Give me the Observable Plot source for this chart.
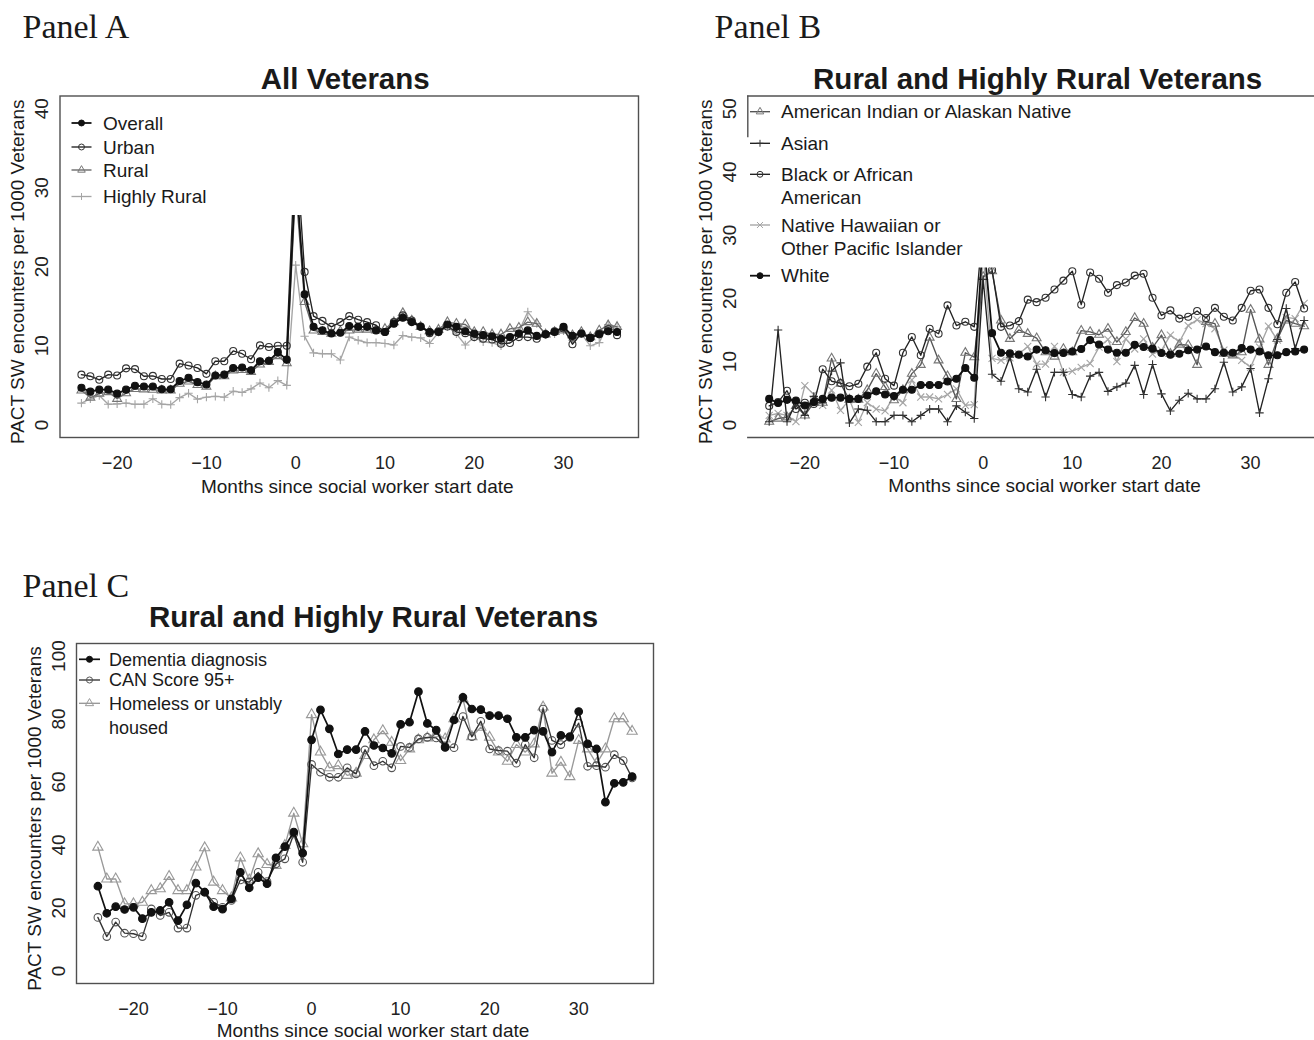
<!DOCTYPE html>
<html><head><meta charset="utf-8">
<script src="https://cdn.jsdelivr.net/npm/d3@7"></script>
<script src="https://cdn.jsdelivr.net/npm/@observablehq/plot@0.6"></script>
<style>
html,body{margin:0;padding:0;background:#fff;overflow:hidden;}
#root{position:relative;width:1314px;height:1040px;overflow:hidden;background:#fff;}
</style></head><body><div id="root"></div>
<script>
// ---------- data ----------
const months = [-24,-23,-22,-21,-20,-19,-18,-17,-16,-15,-14,-13,-12,-11,-10,-9,-8,-7,-6,-5,-4,-3,-2,-1,0,1,2,3,4,5,6,7,8,9,10,11,12,13,14,15,16,17,18,19,20,21,22,23,24,25,26,27,28,29,30,31,32,33,34,35,36];
const xTicks = [-20,-10,0,10,20,30];
const yTicksA = [0,10,20,30,40];
const yTicksB = [0,10,20,30,40,50];
const yTicksC = [0,20,40,60,80,100];

// Panel A
const overall = [4.7,4.2,4.45,4.45,3.95,4.45,4.95,4.85,4.85,4.5,4.5,5.55,5.95,5.4,5.1,6.25,6.35,7.2,7.25,6.9,8.05,8.1,9.2,8.25,32,16.5,12.4,11.95,11.55,11.65,12.5,12.4,12.4,11.95,11.75,12.8,13.55,13.0,12.4,11.75,11.75,12.7,12.4,11.85,11.55,11.35,11.2,10.9,11.1,11.55,11.95,11.25,11.45,11.75,12.4,11.25,11.55,11.0,11.45,11.85,11.75];
const urban = [6.35,6.15,5.7,6.35,6.25,7.15,7.05,6.15,6.2,5.8,5.8,7.75,7.5,7.2,6.45,8.05,8.05,9.35,9.0,8.3,10.05,9.85,10.0,10.0,36,19.35,13.75,13.15,12.4,13.0,13.75,13.3,13.0,12.6,11.75,13.0,13.85,13.2,12.45,11.6,11.85,12.45,11.75,11.6,11.1,10.9,10.8,10.25,10.35,11.1,11.1,10.9,11.45,11.85,12.2,10.2,11.55,11.0,11.55,12.1,11.35];
const rural = [4.35,3.45,3.95,4.15,3.3,4.0,4.55,4.5,4.45,4.35,4.35,5.2,5.5,5.05,4.85,6.15,6.15,6.9,6.95,6.7,7.65,7.95,8.7,7.8,30,15.55,11.95,11.75,11.55,11.85,11.95,12.05,12.05,11.95,12.15,13.0,14.15,13.2,12.4,11.85,12.05,13.0,12.8,12.7,11.75,11.75,11.45,11.45,12.15,12.3,13.0,12.8,11.45,11.75,11.95,11.35,11.75,11.1,11.95,12.6,12.4];
const highlyRural = [2.75,3.3,3.7,2.6,2.65,2.75,2.6,2.6,3.3,2.6,2.55,3.45,4.0,3.25,3.5,3.6,3.5,4.25,4.1,4.55,5.3,4.7,5.6,5.0,20.2,11.2,9.1,9.0,9.0,8.2,11.1,10.7,10.4,10.4,10.3,10.1,11.3,11.1,11.0,10.3,11.7,12.4,11.5,10.1,11.1,10.5,10.4,10.0,11.1,11.8,14.3,12.8,11.5,11.5,11.9,10.7,11.5,10.0,10.4,12.7,12.4];

// Panel B
const aian = [0.5,1.0,1.2,3.0,1.5,3.5,3.5,10.5,6.5,4.0,4.0,5.5,8.1,6.0,3.9,5.5,8.1,9.5,13.8,10.2,7.7,4.1,11.4,10.7,23.4,24.3,16.5,13.6,15.0,14.4,13.7,11.5,10.8,12.0,11.5,14.9,14.7,14.25,15.2,13.1,14.7,16.9,16.0,12.2,14.2,11.25,12.7,12.6,9.5,16.3,16.0,11.25,11.0,11.5,18.2,13.5,9.5,13.6,16.5,16.0,15.6];
const asian = [0.5,15.0,0.5,3.5,1.5,4.5,3.5,8.5,9.8,0.3,2.5,2.3,0.5,0.5,1.5,1.5,0.5,1.5,2.5,2.5,0.5,3.0,2.0,1.0,23.0,8.0,6.9,10.7,5.7,5.2,8.8,4.4,8.3,8.3,4.8,4.4,7.7,8.3,5.3,6.0,6.6,9.4,4.8,9.55,4.9,2.2,3.9,5.0,4.1,4.1,5.7,9.9,5.2,6.0,8.9,1.9,7.3,13.5,18.4,12.05,16.5];
const blackAA = [3.0,3.6,5.4,2.5,3.5,3.3,8.8,6.9,6.6,6.1,6.5,9.2,11.4,7.3,6.2,11.4,13.9,11.0,15.2,14.4,18.9,15.7,16.3,15.5,32,24.5,15.5,15.7,16.4,19.8,19.4,20.1,21.4,22.8,24.3,19.0,24.1,23.1,20.9,22.1,22.5,23.6,23.9,20.1,17.3,18.1,16.8,17.1,18.0,16.9,18.5,17.1,16.5,18.5,21.2,21.4,18.5,15.9,20.9,22.6,18.4];
const nhpi = [1.5,1.8,1.5,0.5,6.2,4.8,3.1,5.5,2.3,4.0,0.4,3.5,2.5,2.2,4.5,3.5,7.1,4.4,4.4,4.1,4.8,5.7,3.1,3.2,27,10.5,10.2,10.6,11.2,12.4,9.6,9.6,12.4,8.3,8.5,9.1,9.7,12.3,13.5,10.0,13.6,12.0,13.6,11.2,11.8,14.2,13.1,15.7,16.6,16.0,15.2,11.8,11.2,10.2,9.1,12.3,15.6,13.4,17.0,16.8,19.2];
const white = [4.1,3.45,3.95,3.85,3.05,3.6,4.1,4.3,4.3,4.1,4.1,4.65,5.3,4.8,4.55,5.55,5.55,6.3,6.3,6.3,6.85,7.3,9.0,7.45,30,14.5,11.4,11.3,11.1,10.8,11.9,11.8,11.35,11.35,11.6,12.0,13.4,12.7,11.9,11.4,11.4,12.65,12.3,12.05,11.35,11.1,11.25,11.8,11.9,12.4,11.5,11.4,11.4,12.15,11.9,11.6,11.0,11.0,11.5,11.6,11.9];

// Panel C
const dementia = [26.9,18.3,20.4,19.5,20.2,16.6,18.6,19.2,21.8,16.0,21.0,27.9,25.0,20.4,19.6,22.9,31.3,26.4,29.6,27.7,35.9,39.5,44.1,37.4,73.4,82.9,76.9,68.9,70.3,70.3,76.1,71.6,70.8,69.1,78.3,79.0,88.7,78.6,76.5,71.0,79.7,86.9,83.2,83.0,81.1,81.1,80.1,74.2,74.2,76.5,76.1,69.5,74.8,74.4,82.4,72.1,70.5,53.6,59.6,59.9,61.7];
const canScore = [17.0,10.9,15.5,12.0,11.8,10.9,19.7,17.6,18.6,13.6,13.6,24.0,25.0,21.8,20.2,22.4,28.9,28.2,31.3,28.4,34.0,35.6,43.5,34.5,65.6,63.1,61.5,61.5,64.5,62.6,70.2,65.2,66.6,64.5,71.3,71.0,73.7,74.2,74.0,71.3,70.9,80.8,74.4,79.3,70.5,70.0,69.8,66.0,71.9,67.7,83.2,73.2,71.9,74.2,78.7,65.0,65.2,64.7,68.7,66.8,61.3];
const homeless = [39.3,29.2,29.2,21.3,21.3,21.8,25.5,26.1,30.0,25.5,25.5,33.0,39.1,28.2,25.5,23.2,35.9,28.9,37.2,33.8,33.5,39.8,50.1,40.4,81.4,69.5,64.5,65.2,62.1,62.8,68.4,73.4,76.3,72.6,66.8,70.5,73.4,74.0,75.3,73.7,80.1,86.4,74.4,77.4,74.2,69.5,66.6,71.9,69.5,72.1,83.8,62.8,66.3,61.7,73.2,70.5,65.8,70.5,80.1,80.1,76.1];

// text
const panelLabels = ["Panel A","Panel B","Panel C"];
const titles = ["All Veterans","Rural and Highly Rural Veterans","Rural and Highly Rural Veterans"];
const xLabel = "Months since social worker start date";
const yLabel = "PACT SW encounters per 1000 Veterans";
const legendA = [["Overall"],["Urban"],["Rural"],["Highly Rural"]];
const legendB = [["American Indian or Alaskan Native"],["Asian"],["Black or African","American"],["Native Hawaiian or","Other Pacific Islander"],["White"]];
const legendC = [["Dementia diagnosis"],["CAN Score 95+"],["Homeless or unstably","housed"]];

// ---------- styles ----------
const FONT = "'Liberation Sans', Arial, Helvetica, sans-serif";
const SERIF = "'Liberation Serif', 'Times New Roman', serif";
const FRAME = "#505050";
const stA = {
  overall: {line:"#111", lw:1.8, symbol:"circle", fill:"#111", stroke:"#111", r:3.5},
  urban: {line:"#222", lw:1.35, symbol:"circle", fill:"none", stroke:"#333", r:3.5},
  rural: {line:"#666", lw:1.35, symbol:"triangle", fill:"none", stroke:"#777", r:3.3},
  hr: {line:"#a5a5a5", lw:1.35, symbol:"plus", fill:"none", stroke:"#a5a5a5", r:2.8}
};
const stB = {
  aian: {line:"#555", lw:1.35, symbol:"triangle", fill:"none", stroke:"#777", r:3.3},
  asian: {line:"#222", lw:1.35, symbol:"plus", fill:"none", stroke:"#333", r:2.8},
  black: {line:"#222", lw:1.35, symbol:"circle", fill:"none", stroke:"#333", r:3.5},
  nhpi: {line:"#a5a5a5", lw:1.35, symbol:"times", fill:"none", stroke:"#a5a5a5", r:3.3},
  white: {line:"#111", lw:1.8, symbol:"circle", fill:"#111", stroke:"#111", r:3.5}
};
const stC = {
  dem: {line:"#111", lw:1.7, symbol:"circle", fill:"#111", stroke:"#111", r:3.8},
  can: {line:"#333", lw:1.35, symbol:"circle", fill:"none", stroke:"#555", r:3.8},
  hom: {line:"#999", lw:1.35, symbol:"triangle", fill:"none", stroke:"#999", r:3.8}
};

const fmt = d3.format("d");
const root = document.getElementById("root");

function panel(cfg) {
  const xe = d3.extent(months), xp = (xe[1] - xe[0]) * 0.04;
  const ye = d3.extent(cfg.yTicks), yp = (ye[1] - ye[0]) * 0.04;
  const fx = [xe[0] - xp, xe[1] + xp], fy = [ye[0] - yp, ye[1] + yp];
  const marks = [];
  if (cfg.fullFrame) {
    marks.push(Plot.frame({stroke: FRAME, strokeWidth: 1.4}));
  } else {
    marks.push(Plot.frame({anchor: "top", stroke: FRAME, strokeWidth: 1.4}));
    marks.push(Plot.frame({anchor: "bottom", stroke: FRAME, strokeWidth: 1.4}));
    marks.push(Plot.ruleX([fx[0]], {y1: cfg.stubFrom, y2: fy[1], stroke: FRAME, strokeWidth: 1.4}));
  }
  for (const s of cfg.series) {
    const data = months.map((m, i) => ({m, v: s.values[i]}));
    marks.push(Plot.line(data, {x: "m", y: "v", stroke: s.st.line, strokeWidth: s.st.lw}));
    marks.push(Plot.dot(data, {x: "m", y: "v", symbol: s.st.symbol, r: s.st.r, fill: s.st.fill, stroke: s.st.stroke, strokeWidth: 1.1}));
  }
  marks.push(Plot.axisX({ticks: xTicks, tickSize: 0, tickPadding: 19, tickFormat: fmt, fontSize: 18, label: null}));
  marks.push(Plot.axisY({ticks: cfg.yTicks, tickSize: 0, tickPadding: 12, tickRotate: -90, textAnchor: "middle", lineAnchor: "bottom", tickFormat: fmt, fontSize: 19, label: null}));
  marks.push(Plot.text([xLabel], {text: d => d, frameAnchor: "bottom", dx: 8, dy: cfg.xlabDy, lineAnchor: "middle", fontSize: 19, fill: "#1a1a1a"}));
  marks.push(Plot.text([yLabel], {text: d => d, frameAnchor: "left", dx: -42, dy: 5, rotate: -90, textAnchor: "middle", lineAnchor: "middle", fontSize: 19, fill: "#1a1a1a"}));
  marks.push(Plot.text([cfg.title], {text: d => d, frameAnchor: "top", dx: cfg.titleDx, dy: cfg.titleBase - cfg.frameTop, lineAnchor: "bottom", fontSize: 29.5, fontWeight: "bold", fill: "#1a1a1a"}));
  marks.push(Plot.text([cfg.panelLabel], {text: d => d, frameAnchor: "top-left", dx: cfg.plX - cfg.frameLeft, dy: cfg.plBase - cfg.frameTop, textAnchor: "start", lineAnchor: "bottom", fontFamily: SERIF, fontSize: 34, fill: "#1a1a1a"}));
  const svg = Plot.plot({
    width: cfg.width, height: cfg.height,
    marginTop: cfg.frameTop - cfg.top, marginLeft: cfg.frameLeft - cfg.left,
    marginRight: cfg.left + cfg.width - cfg.frameRight, marginBottom: cfg.top + cfg.height - cfg.frameBottom,
    x: {domain: fx}, y: {domain: fy},
    style: {fontFamily: FONT, fontSize: "19px", color: "#222", background: "transparent", overflow: "visible"},
    marks
  });
  svg.style.position = "absolute";
  svg.style.left = cfg.left + "px";
  svg.style.top = cfg.top + "px";
  root.appendChild(svg);
}

panel({
  left: 0, top: 0, width: 660, height: 510,
  frameLeft: 59.5, frameRight: 638, frameTop: 95.5, frameBottom: 437,
  yTicks: yTicksA, fullFrame: true, xlabDy: 49,
  title: titles[0], titleDx: -4, titleBase: 88, panelLabel: panelLabels[0], plX: 22, plBase: 37,
  series: [
    {values: highlyRural, st: stA.hr}, {values: rural, st: stA.rural},
    {values: urban, st: stA.urban}, {values: overall, st: stA.overall}
  ]
});
panel({
  left: 690, top: 0, width: 660, height: 510,
  frameLeft: 747.3, frameRight: 1325, frameTop: 95.5, frameBottom: 437,
  yTicks: yTicksB, fullFrame: false, stubFrom: 45.4, xlabDy: 48,
  title: titles[1], titleDx: 1, titleBase: 88, panelLabel: panelLabels[1], plX: 714, plBase: 37,
  series: [
    {values: nhpi, st: stB.nhpi}, {values: aian, st: stB.aian}, {values: asian, st: stB.asian},
    {values: blackAA, st: stB.black}, {values: white, st: stB.white}
  ]
});
panel({
  left: 0, top: 550, width: 680, height: 490,
  frameLeft: 76, frameRight: 653, frameTop: 643, frameBottom: 983,
  yTicks: yTicksC, fullFrame: true, xlabDy: 47,
  title: titles[2], titleDx: 8.5, titleBase: 626, panelLabel: panelLabels[2], plX: 22, plBase: 596,
  series: [
    {values: homeless, st: stC.hom}, {values: canScore, st: stC.can}, {values: dementia, st: stC.dem}
  ]
});

// ---------- legends (overlay) ----------
const ov = d3.select(root).append("svg")
  .attr("width", 1314).attr("height", 1040)
  .style("position", "absolute").style("left", "0px").style("top", "0px")
  .style("font-family", FONT);
// white legend backgrounds
ov.append("rect").attr("x", 61).attr("y", 97).attr("width", 270).attr("height", 118).attr("fill", "#fff");
ov.append("rect").attr("x", 968).attr("y", 97.5).attr("width", 30).attr("height", 170).attr("fill", "#fff");

const symMap = {circle: d3.symbolCircle, triangle: d3.symbolTriangle, plus: d3.symbolPlus, times: d3.symbolTimes};
function drawLegend(labels, styles, o) {
  labels.forEach((lines, i) => {
    const st = styles[i], y = o.rows[i];
    ov.append("line").attr("x1", o.x0).attr("x2", o.x1).attr("y1", y).attr("y2", y)
      .attr("stroke", st.line).attr("stroke-width", st.lw);
    const rr = st.r * o.k;
    ov.append("path").attr("d", d3.symbol(symMap[st.symbol], Math.PI * rr * rr)())
      .attr("transform", `translate(${(o.x0 + o.x1) / 2},${y})`)
      .attr("fill", st.fill).attr("stroke", st.stroke).attr("stroke-width", 1);
    lines.forEach((ln, j) => {
      ov.append("text").attr("x", o.xt).attr("y", y + j * o.gap).attr("dy", "0.35em")
        .attr("font-size", o.fs).attr("fill", "#1a1a1a").text(ln);
    });
  });
}
drawLegend(legendA, [stA.overall, stA.urban, stA.rural, stA.hr],
  {x0: 71.5, x1: 91.5, xt: 103, rows: [123, 147, 170, 196.5], gap: 0, fs: 19, k: 0.85});
drawLegend(legendB, [stB.aian, stB.asian, stB.black, stB.nhpi, stB.white],
  {x0: 750, x1: 770, xt: 781, rows: [111.7, 143.3, 174.3, 225, 275.7], gap: 23.5, fs: 19, k: 0.85});
drawLegend(legendC, [stC.dem, stC.can, stC.hom],
  {x0: 79, x1: 100, xt: 109, rows: [659.3, 680, 703.3], gap: 24.4, fs: 18, k: 0.8});
</script></body></html>
